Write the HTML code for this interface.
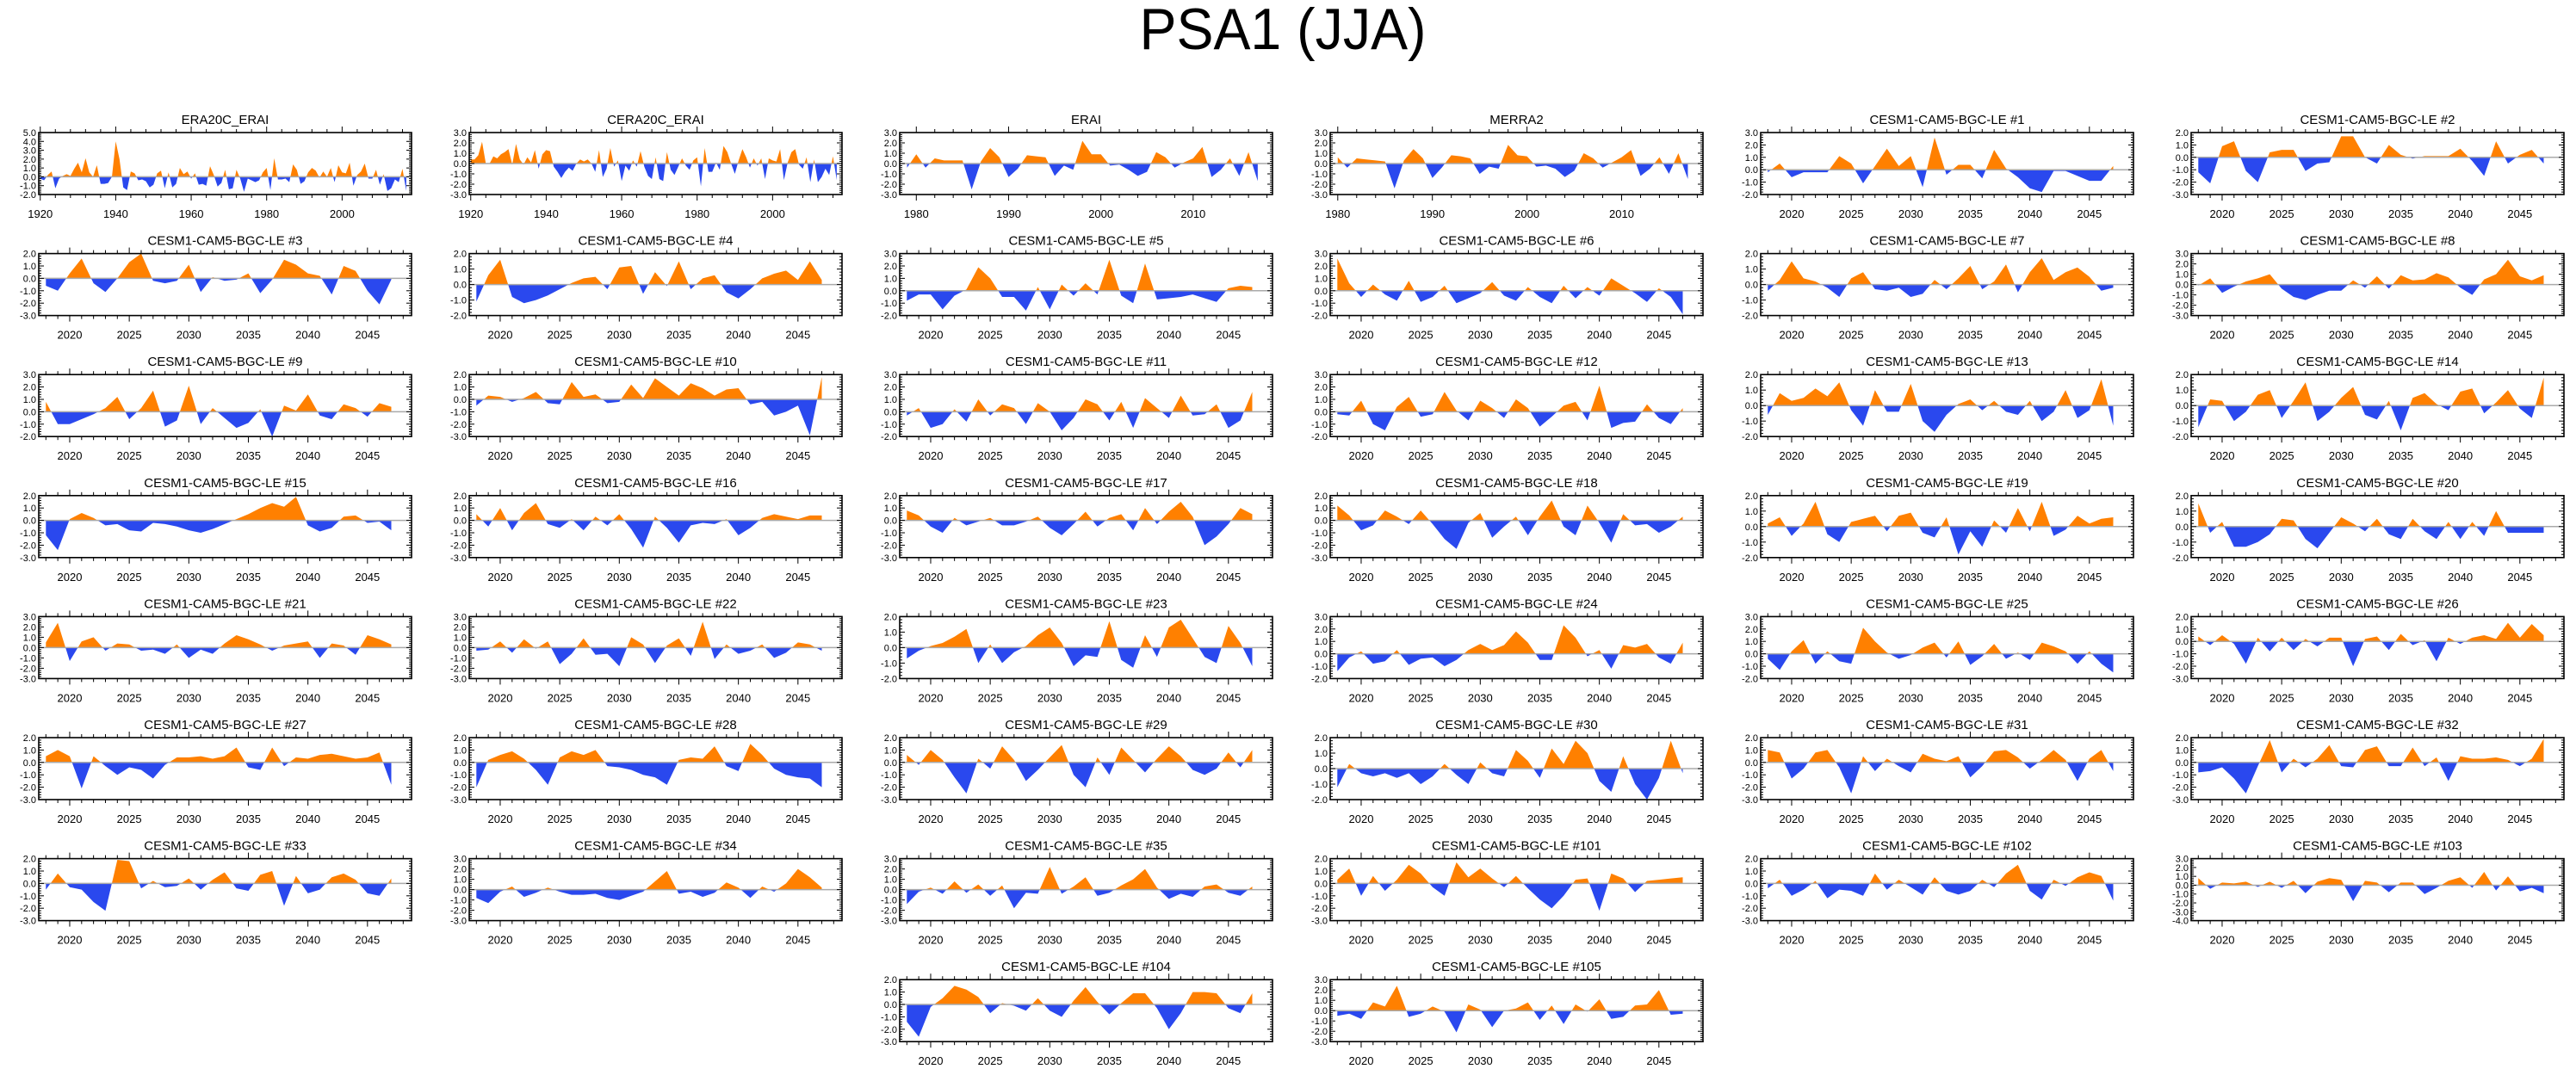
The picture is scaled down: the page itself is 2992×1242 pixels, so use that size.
<!DOCTYPE html>
<html><head><meta charset="utf-8"><style>
body{margin:0;background:#fff}
svg{display:block;font-family:"Liberation Sans",sans-serif}
</style></head><body>
<svg id="chart" width="2992" height="1242" viewBox="0 0 2992 1242">
<text x="1490" y="57" font-size="68" text-anchor="middle" textLength="333" lengthAdjust="spacingAndGlyphs">PSA1 (JJA)</text>
</svg>
<script>
const panelNames = ["ERA20C_ERAI","CERA20C_ERAI","ERAI","MERRA2","CESM1-CAM5-BGC-LE #1","CESM1-CAM5-BGC-LE #2",
"CESM1-CAM5-BGC-LE #3","CESM1-CAM5-BGC-LE #4","CESM1-CAM5-BGC-LE #5","CESM1-CAM5-BGC-LE #6","CESM1-CAM5-BGC-LE #7","CESM1-CAM5-BGC-LE #8",
"CESM1-CAM5-BGC-LE #9","CESM1-CAM5-BGC-LE #10","CESM1-CAM5-BGC-LE #11","CESM1-CAM5-BGC-LE #12","CESM1-CAM5-BGC-LE #13","CESM1-CAM5-BGC-LE #14",
"CESM1-CAM5-BGC-LE #15","CESM1-CAM5-BGC-LE #16","CESM1-CAM5-BGC-LE #17","CESM1-CAM5-BGC-LE #18","CESM1-CAM5-BGC-LE #19","CESM1-CAM5-BGC-LE #20",
"CESM1-CAM5-BGC-LE #21","CESM1-CAM5-BGC-LE #22","CESM1-CAM5-BGC-LE #23","CESM1-CAM5-BGC-LE #24","CESM1-CAM5-BGC-LE #25","CESM1-CAM5-BGC-LE #26",
"CESM1-CAM5-BGC-LE #27","CESM1-CAM5-BGC-LE #28","CESM1-CAM5-BGC-LE #29","CESM1-CAM5-BGC-LE #30","CESM1-CAM5-BGC-LE #31","CESM1-CAM5-BGC-LE #32",
"CESM1-CAM5-BGC-LE #33","CESM1-CAM5-BGC-LE #34","CESM1-CAM5-BGC-LE #35","CESM1-CAM5-BGC-LE #101","CESM1-CAM5-BGC-LE #102","CESM1-CAM5-BGC-LE #103",
"CESM1-CAM5-BGC-LE #104","CESM1-CAM5-BGC-LE #105"];
const panelCells = [[0,0],[0,1],[0,2],[0,3],[0,4],[0,5],[1,0],[1,1],[1,2],[1,3],[1,4],[1,5],[2,0],[2,1],[2,2],[2,3],[2,4],[2,5],[3,0],[3,1],[3,2],[3,3],[3,4],[3,5],[4,0],[4,1],[4,2],[4,3],[4,4],[4,5],[5,0],[5,1],[5,2],[5,3],[5,4],[5,5],[6,0],[6,1],[6,2],[6,3],[6,4],[6,5],[7,2],[7,3]];
const yMax = [5,3,3,3,3,2, 2,2,3,3,2,3, 3,2,3,3,2,2, 2,2,2,2,2,2, 3,3,2,3,3,2, 2,2,2,2,2,2, 2,3,3,2,2,3, 2,3];
const yMin = [-2,-3,-3,-3,-2,-3, -3,-2,-2,-2,-2,-3, -2,-3,-2,-2,-2,-2, -3,-3,-3,-3,-2,-2, -3,-3,-2,-2,-2,-3, -3,-3,-3,-2,-3,-3, -3,-3,-3,-3,-3,-4, -3,-3];
const startYear = [1920,1920,1979,1980,2018,2018,2018,2018,2018,2018,2018,2018,2018,2018,2018,2018,2018,2018,2018,2018,2018,2018,2018,2018,2018,2018,2018,2018,2018,2018,2018,2018,2018,2018,2018,2018,2018,2018,2018,2018,2018,2018,2018,2018];
const era20c = [-0.2,-0.4,0.2,0.6,-1.3,-0.2,0.1,0.3,0.1,0.9,1.6,0.5,2.1,0.5,0.0,1.3,-0.8,-0.8,-0.7,0.0,4.0,2.0,-1.2,-1.5,0.6,0.4,-0.4,-0.3,-0.5,-1.2,-0.9,0.4,0.7,-1.3,0.5,-1.2,-0.8,1.0,0.3,0.6,-0.2,0.4,-0.9,-0.8,-1.0,1.2,0.2,-1.1,-0.7,0.8,-1.4,-1.3,0.8,-0.2,-1.7,-0.2,-0.4,-0.6,-0.4,0.5,1.0,-1.5,2.1,-0.3,-0.3,-0.2,-0.6,1.4,0.8,-0.8,-0.5,0.5,1.0,0.7,-0.1,0.6,0.0,1.0,-0.6,1.3,0.5,0.4,1.6,-1.0,0.2,0.6,1.5,-0.2,-0.2,0.8,-0.9,0.3,-1.6,-1.3,-0.3,-0.6,0.9,-1.6];
const cera20c = [0.4,0.4,0.8,2.1,0.0,0.0,0.7,0.5,0.9,1.1,1.4,-0.1,1.9,0.4,-0.1,0.6,0.1,1.3,-0.5,0.9,1.3,1.2,-0.3,-0.8,-1.4,-0.8,-0.4,-0.7,0.0,0.4,0.2,0.4,0.0,-0.8,1.3,-1.3,-0.5,1.5,-0.3,0.3,-1.7,-0.2,-0.7,0.3,-0.3,1.2,-0.3,-1.2,-1.5,0.6,-1.5,-1.7,1.1,-0.6,-1.1,-0.3,0.5,-0.2,-0.6,0.3,0.6,-2.2,1.5,-0.8,-0.8,0.1,-0.6,1.7,1.1,0.0,-1.0,0.3,1.4,0.6,-0.4,0.5,-0.2,0.5,-1.5,0.5,0.3,0.2,1.4,-1.6,0.1,1.1,1.4,-0.1,-0.5,0.6,-1.8,0.4,-1.8,-1.3,-0.5,-1.1,0.7,-1.6];
const erai = [-0.4,0.9,-0.4,0.5,0.3,0.3,0.3,-2.5,0.2,1.5,0.6,-1.3,-0.5,0.8,0.7,0.6,-1.2,-0.2,-0.6,2.2,0.9,0.9,-0.2,-0.1,-0.6,-1.2,-0.8,1.1,0.6,-0.4,0.1,0.5,1.6,-1.3,-0.6,0.5,-1.2,1.1,-1.7];
const merra2 = [0.6,-0.4,0.5,0.4,0.3,0.2,-2.4,0.3,1.4,0.5,-1.4,-0.4,0.8,0.7,0.5,-1.0,-0.3,-0.5,1.8,0.8,0.7,-0.3,-0.2,-0.5,-1.3,-0.7,1.0,0.5,-0.4,0.1,0.6,1.3,-1.2,-0.5,0.6,-1.0,1.0,-1.5];
const m1 = [-0.2,0.5,-0.6,-0.2,-0.2,-0.2,1.1,0.5,-1.1,0.3,1.7,0.3,1.1,-1.4,2.6,-0.4,0.4,0.4,-0.7,1.6,0.1,-0.6,-1.5,-1.8,-0.1,-0.1,-0.5,-0.9,-0.9,0.3];
const m2 = [-1.2,-2.1,0.9,1.3,-1.1,-2.0,0.4,0.6,0.6,-1.1,-0.5,-0.4,1.7,1.7,0.0,-0.5,1.0,0.2,-0.1,0.1,0.1,0.1,0.7,-0.3,-1.5,1.3,-0.5,0.2,0.6,-0.5];
const m3 = [-0.6,-1.0,0.4,1.6,-0.4,-1.1,0.0,1.3,2.0,-0.2,-0.4,-0.2,1.1,-1.1,0.1,-0.2,-0.1,0.4,-1.2,-0.1,1.5,1.1,0.4,0.2,-1.3,1.0,0.6,-1.0,-2.1,-0.1];
const m4 = [-1.1,0.6,1.6,-0.8,-1.2,-1.0,-0.7,-0.3,0.1,0.4,0.5,-0.3,1.1,1.2,-0.6,0.8,-0.1,1.5,-0.3,0.4,0.6,-0.5,-0.9,-0.3,0.4,0.7,0.9,0.3,1.5,0.3];
const m5 = [-0.8,-0.3,-0.3,-1.5,-0.4,0.1,1.9,1.0,-0.5,-0.5,-1.6,0.3,-1.5,0.5,-0.4,0.6,-0.3,2.5,-0.4,-1.0,2.2,-0.7,-0.6,-0.5,-0.3,-0.6,-0.9,0.2,0.4,0.3];
const m6 = [2.6,0.6,-0.5,0.5,-0.3,-0.8,0.8,-0.9,-0.5,0.4,-1.0,-0.6,-0.2,0.7,-0.4,-0.8,0.3,-0.5,-1.0,0.4,-0.6,0.3,-0.4,1.0,0.4,-0.2,-0.9,0.2,-0.5,-1.9];
const m7 = [-0.4,0.3,1.5,0.4,0.2,-0.2,-0.8,0.4,0.8,-0.3,-0.4,-0.2,-0.8,-0.6,0.3,-0.3,0.4,1.2,-0.3,0.2,1.3,-0.5,0.8,1.7,0.3,0.8,1.1,0.5,-0.4,-0.2];
const m8 = [-0.1,0.6,-0.8,-0.2,0.3,0.6,1.0,-0.4,-1.2,-1.5,-1.0,-0.6,-0.6,0.4,-0.3,0.8,-0.4,0.9,0.4,0.5,1.1,0.7,-0.3,-1.0,0.5,1.0,2.4,0.8,0.4,0.9];
const m9 = [0.8,-1.0,-1.0,-0.6,-0.2,0.3,1.2,-0.6,0.3,1.7,-1.2,-0.7,2.1,-1.0,0.3,-0.5,-1.3,-0.9,0.2,-2.0,0.5,0.1,1.4,-0.3,-0.6,0.6,0.3,-0.4,0.7,0.4];
const m10 = [-0.5,0.3,0.2,-0.2,0.1,0.6,-0.3,-0.4,1.4,0.2,0.4,-0.3,-0.2,1.2,0.1,1.7,1.0,0.3,1.3,0.9,0.3,0.8,0.9,-0.4,-0.2,-1.3,-1.0,-0.5,-2.9,1.8];
const m11 = [-0.3,0.3,-1.3,-1.0,0.2,-0.8,1.0,-0.3,0.6,0.3,-1.0,0.7,0.0,-1.5,-0.5,1.0,0.6,-0.7,0.8,-1.3,1.1,0.3,-0.5,1.3,-0.3,-0.2,0.6,-1.3,-0.7,1.6];
const m12 = [-0.2,-0.3,0.9,-1.0,-1.5,0.4,1.2,-0.4,-0.2,1.6,0.1,-0.7,0.9,0.3,-0.5,1.0,0.3,-1.2,-0.4,0.5,0.8,-0.7,2.1,-1.3,-0.9,-0.8,0.6,-0.5,-1.0,0.3];
const m13 = [-0.6,0.8,0.3,0.5,1.1,0.6,1.5,-0.3,-1.3,1.0,-0.4,-0.4,1.4,-1.0,-1.7,-0.6,0.1,0.4,-0.3,0.3,-0.4,-0.6,0.3,-1.0,-0.4,1.0,-0.8,-0.3,1.7,-1.3];
const m14 = [-1.4,0.4,0.3,-1.0,-0.4,0.7,1.0,-0.8,0.3,1.5,-1.0,-0.4,0.5,1.2,-0.6,-0.9,0.3,-1.6,0.5,0.8,0.1,-0.3,0.9,1.1,-0.5,0.2,1.0,-0.2,-0.8,1.8];
const m15 = [-1.2,-2.4,0.1,0.6,0.2,-0.4,-0.3,-0.8,-0.9,-0.2,-0.3,-0.5,-0.8,-1.0,-0.7,-0.3,0.1,0.5,1.0,1.4,1.1,1.9,-0.4,-0.9,-0.6,0.3,0.4,-0.2,-0.1,-0.8];
const m16 = [0.5,-0.5,1.0,-0.8,0.6,1.4,-0.3,-0.6,0.1,-0.8,0.3,-0.4,0.5,-0.7,-2.2,0.3,-0.6,-1.8,-0.4,-0.2,-0.3,0.1,-1.2,-0.6,0.2,0.5,0.3,0.1,0.4,0.4];
const m17 = [0.8,0.4,-0.5,-1.0,0.2,-0.4,-0.1,0.2,-0.4,-0.4,-0.1,0.3,-0.6,-1.2,-0.3,0.7,-0.5,0.2,0.5,-0.8,1.0,-0.3,0.7,1.5,0.3,-2.0,-1.3,-0.3,1.0,0.5];
const m18 = [1.2,0.4,-0.8,-0.4,0.8,0.3,-0.3,0.8,-0.3,-1.5,-2.3,-0.2,0.6,-1.4,-0.5,0.3,-1.2,0.3,1.6,-0.5,-1.2,1.2,-0.2,-1.8,0.5,-0.4,-0.3,-1.0,-0.5,0.3];
const m19 = [0.2,0.6,-0.6,0.2,1.6,-0.5,-1.0,0.3,0.5,0.7,-0.3,0.7,0.9,-0.4,-0.7,0.6,-1.8,-0.3,-1.3,0.4,-0.4,1.2,-0.3,1.6,-0.6,-0.2,0.7,0.2,0.5,0.6];
const m20 = [1.5,-0.4,0.3,-1.3,-1.3,-1.0,-0.5,0.5,0.4,-0.8,-1.4,-0.4,0.6,0.2,-0.3,0.5,-0.5,-0.8,0.5,-0.3,-0.8,0.3,-0.8,0.3,-0.6,1.0,-0.4,-0.4,-0.4,-0.4];
const m21 = [0.5,2.4,-1.3,0.6,1.0,-0.3,0.4,0.3,-0.3,-0.2,-0.6,0.3,-1.0,-0.2,-0.6,0.4,1.2,0.8,0.3,-0.3,0.2,0.4,0.6,-1.0,0.4,0.2,-0.7,1.2,0.8,0.3];
const m22 = [-0.3,-0.2,0.6,-0.5,0.8,-0.1,0.6,-1.6,-0.6,0.9,-0.7,-0.6,-1.8,1.0,0.3,-1.5,0.2,0.9,-0.8,2.5,-1.1,0.3,-0.6,-0.3,0.3,-1.0,-0.5,0.5,0.3,-0.3];
const m23 = [-0.7,-0.2,0.1,0.3,0.7,1.2,-1.0,0.2,-1.0,-0.3,0.1,0.8,1.3,0.3,-1.2,-0.5,-0.6,1.7,-0.8,-1.3,0.8,-0.6,1.3,1.8,0.6,-0.6,-1.0,1.4,0.3,-1.2];
const m24 = [-1.4,-0.3,0.2,-0.8,-0.6,0.3,-0.9,-0.4,-0.3,-1.0,-0.5,0.3,0.8,0.3,0.7,1.8,0.9,-0.5,-0.5,2.3,1.3,-0.2,0.3,-1.2,0.7,0.5,0.8,-0.3,-0.8,0.9];
const m25 = [-0.4,-1.3,0.2,1.1,-0.8,0.2,-0.6,-0.8,2.1,1.0,0.1,-0.4,-0.1,0.5,0.9,-0.3,1.0,-0.9,-0.2,0.8,-0.4,0.1,-0.5,0.9,0.6,0.2,-0.8,0.2,-0.8,-1.5];
const m26 = [0.4,-0.3,0.5,-0.2,-1.8,0.3,-0.8,0.3,-0.7,0.2,-0.4,0.3,0.3,-2.0,0.2,0.4,-0.7,0.6,-0.3,0.1,-1.6,0.3,-0.2,0.3,0.5,0.2,1.5,0.3,1.4,0.5];
const m27 = [0.5,1.0,0.5,-2.1,0.5,-0.3,-1.0,-0.4,-0.6,-1.3,-0.2,0.4,0.4,0.5,0.3,0.5,1.2,-0.4,-0.6,1.2,-0.3,0.4,0.3,0.6,0.7,0.5,0.3,0.4,0.8,-1.8];
const m28 = [-2.0,0.2,0.6,0.9,0.3,-0.6,-1.8,0.4,0.9,0.6,1.0,-0.3,-0.4,-0.6,-1.0,-1.2,-1.8,0.2,0.4,0.3,1.3,-0.3,-0.7,1.5,0.6,-0.5,-1.0,-1.2,-1.3,-2.0];
const m29 = [0.6,-0.2,1.0,0.2,-1.2,-2.5,0.3,-0.5,1.3,0.2,-1.5,-0.6,0.4,1.4,-1.0,-2.0,0.4,-1.0,1.2,0.2,-0.8,0.3,1.3,0.5,-0.6,-1.0,-0.5,0.8,-0.4,1.0];
const m30 = [-1.2,0.3,-0.3,-0.5,-0.3,-0.6,-0.3,-1.0,-0.5,0.3,-0.4,-1.0,0.4,-0.3,-0.5,1.2,0.5,-0.6,1.3,0.3,1.8,1.0,-0.8,-1.5,0.8,-1.0,-2.0,-0.6,1.8,-0.3];
const m31 = [1.0,0.8,-1.3,-0.5,0.8,1.0,-0.4,-2.5,0.5,-0.7,0.3,-0.3,-0.8,0.7,0.3,0.1,0.5,-1.2,-0.3,0.9,1.0,0.4,-0.5,0.2,1.0,0.2,-1.5,0.3,1.0,-0.7];
const m32 = [-0.8,-0.7,-0.4,-1.3,-2.5,-0.3,1.8,-0.8,0.3,-0.4,0.3,1.4,-0.3,-0.4,1.0,1.3,-0.3,-0.3,1.2,-0.3,0.4,-1.5,0.5,0.3,0.3,0.4,0.2,-0.3,0.3,1.9];
const m33 = [-0.5,0.8,-0.3,-0.5,-1.5,-2.2,1.9,1.8,-0.4,0.2,-0.3,-0.2,0.4,-0.5,0.3,0.9,-0.4,-0.6,0.7,1.0,-1.8,0.6,-0.8,-0.5,0.5,0.8,0.3,-0.8,-1.0,0.4];
const m34 = [-0.8,-1.3,-0.2,0.3,-0.7,-0.3,0.2,-0.2,-0.5,-0.5,-0.4,-0.8,-1.0,-0.6,-0.2,0.8,1.8,-0.4,-0.2,-0.7,-0.3,0.7,0.2,-0.8,0.3,-0.2,0.6,2.0,1.2,0.2];
const m35 = [-1.4,-0.2,0.2,-0.4,0.8,-0.3,0.5,-0.6,0.4,-1.8,-0.3,-0.4,2.2,-0.4,0.3,1.2,-0.6,-0.3,0.4,1.0,2.0,0.2,-0.9,-0.4,-0.7,0.3,0.5,-0.3,-0.6,0.3];
const m101 = [0.3,1.2,-1.0,0.6,-0.6,0.3,1.5,0.8,-0.3,-1.0,1.7,0.5,1.2,0.4,-0.3,0.6,-0.4,-1.3,-2.0,-1.0,0.3,0.4,-2.2,0.8,0.4,-0.7,0.2,0.3,0.4,0.5];
const m102 = [-0.4,0.3,-1.0,-0.5,0.2,-1.2,-0.5,-0.6,-1.0,0.8,-0.5,0.3,-0.3,-0.9,0.5,-0.6,-0.9,-0.6,0.3,-0.3,0.8,1.5,-0.6,-1.3,0.3,-0.2,0.5,0.9,0.6,-1.4];
const m103 = [0.8,-0.4,0.3,0.2,0.4,-0.2,0.4,-0.3,0.5,-0.9,0.4,0.8,0.6,-1.8,0.5,0.3,-0.8,0.3,0.3,-1.0,-0.3,0.5,0.9,-0.3,1.5,-0.6,1.0,-0.7,-0.3,-0.9];
const m104 = [-1.4,-2.6,-0.2,0.5,1.5,1.2,0.6,-0.7,0.1,-0.1,-0.5,0.5,-0.5,-1.0,0.3,1.4,0.2,-0.8,0.1,0.9,0.9,-0.3,-2.0,-0.7,1.0,1.0,0.9,-0.3,-0.7,0.9];
const m105 = [-0.5,-0.3,-0.8,0.8,0.4,2.4,-0.6,-0.3,0.4,-0.1,-2.1,0.6,0.1,-1.6,0.0,0.2,0.8,-0.9,0.5,-1.3,0.6,-0.1,1.1,-0.8,-0.6,0.5,0.6,2.0,-0.4,-0.3];
const series = [era20c,cera20c,erai,merra2,m1,m2,m3,m4,m5,m6,m7,m8,m9,m10,m11,m12,m13,m14,m15,m16,m17,m18,m19,m20,m21,m22,m23,m24,m25,m26,m27,m28,m29,m30,m31,m32,m33,m34,m35,m101,m102,m103,m104,m105];

const NS = "http://www.w3.org/2000/svg";
const svg = document.getElementById("chart");
function mk(tag, attrs, parent){const e=document.createElementNS(NS,tag);for(const k in attrs)e.setAttribute(k,attrs[k]);parent.appendChild(e);return e;}
const PW=433, PH=72;
series.forEach((vals,i)=>{
  const [r,c]=panelCells[i];
  const x0=45+500*c, y0=154+140.6*r;
  const sy=startYear[i];
  let xmin,xmax,labStep,minStep;
  if(sy===1920){xmin=1919.6;xmax=2018.4;labStep=20;minStep=4;}
  else if(sy===1979){xmin=1978.2;xmax=2018.6;labStep=10;minStep=2;}
  else if(sy===1980){xmin=1979.2;xmax=2018.6;labStep=10;minStep=2;}
  else {xmin=2017.4;xmax=2048.7;labStep=5;minStep=1;}
  const X=v=>x0+(v-xmin)/(xmax-xmin)*PW;
  const Y=v=>y0+(yMax[i]-v)/(yMax[i]-yMin[i])*PH;
  const g=mk("g",{},svg);
  
  
  const t=mk("text",{x:x0+PW/2,y:y0-10,"font-size":15,"text-anchor":"middle"},g);
  t.textContent=panelNames[i];
  
  
  const id="c"+i, z=Y(0);
  const defs=mk("defs",{},g);
  const cp1=mk("clipPath",{id:id+"p"},defs); mk("rect",{x:x0,y:y0,width:PW,height:z-y0},cp1);
  const cp2=mk("clipPath",{id:id+"n"},defs); mk("rect",{x:x0,y:z,width:PW,height:y0+PH-z},cp2);
  let pts=`${X(sy)},${z} `+vals.map((v,k)=>`${X(sy+k)},${Y(v)}`).join(" ")+` ${X(sy+vals.length-1)},${z}`;
  const pp=mk("polygon",{points:pts,fill:"#ff8000","clip-path":`url(#${id}p)`},g);
  
  
  const pn=mk("polygon",{points:pts,fill:"#2a48ee","clip-path":`url(#${id}n)`},g);
  
  
  mk("line",{x1:x0,x2:x0+PW,y1:z,y2:z,stroke:"#aaa","stroke-width":1.5},g);
  mk("rect",{x:x0,y:y0,width:PW,height:PH,fill:"none",stroke:"#000","stroke-width":1.6},g);
  // x ticks
  for(let yr=Math.ceil(xmin);yr<=xmax;yr++){
    if(yr%minStep) continue;
    const maj=yr%labStep===0, L=maj?7:4, xx=X(yr);
    mk("line",{x1:xx,x2:xx,y1:y0,y2:y0-L,stroke:"#000","stroke-width":1},g);
    mk("line",{x1:xx,x2:xx,y1:y0+PH,y2:y0+PH+L,stroke:"#000","stroke-width":1},g);
    if(maj){const tl=mk("text",{x:xx,y:y0+PH+27,"font-size":13,"text-anchor":"middle"},g);tl.textContent=yr;
      
      }
  }
  // y ticks
  for(let v=yMin[i]*5;v<=yMax[i]*5;v++){
    const yy=Y(v/5), maj=v%5===0, L=maj?6:3;
    mk("line",{x1:x0,x2:x0+L,y1:yy,y2:yy,stroke:"#000","stroke-width":1},g);
    mk("line",{x1:x0+PW,x2:x0+PW-L,y1:yy,y2:yy,stroke:"#000","stroke-width":1},g);
    if(maj){const tl=mk("text",{x:x0-3,y:yy+4,"font-size":11,"text-anchor":"end"},g);tl.textContent=(v/5).toFixed(1);
      
      }
  }
});
</script>
</body></html>
